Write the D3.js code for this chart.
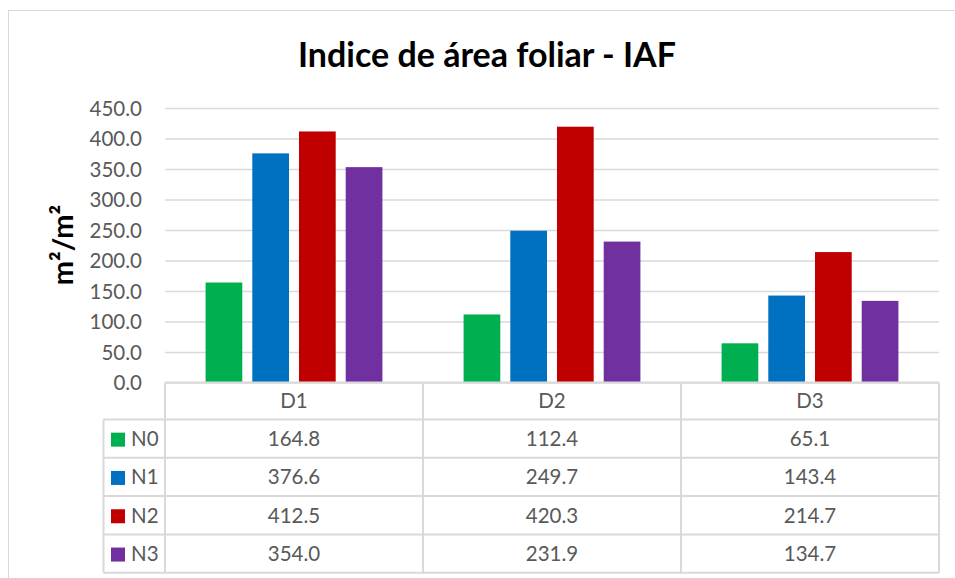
<!DOCTYPE html>
<html>
<head>
<meta charset="utf-8">
<script src="https://cdn.jsdelivr.net/npm/d3@7"></script>
<style>
  body { margin: 0; background: #fff; }
  svg { display: block; font-family: Lato, "Open Sans", sans-serif; }
</style>
</head>
<body>
<svg id="chart" width="955" height="578"></svg>
<script>
// chart data
const categories = ["D1", "D2", "D3"];
const seriesNames = ["N0", "N1", "N2", "N3"];
const seriesColors = ["#00B050", "#0070C0", "#C00000", "#7030A0"];
const n0 = [164.8, 112.4, 65.1];
const n1 = [376.6, 249.7, 143.4];
const n2 = [412.5, 420.3, 214.7];
const n3 = [354.0, 231.9, 134.7];
const yTicks = [0, 50, 100, 150, 200, 250, 300, 350, 400, 450];

const values = [n0, n1, n2, n3];

const svg = d3.select("#chart");

// outer chart border
svg.append("rect")
  .attr("x", 8.5).attr("y", 10.5)
  .attr("width", 960).attr("height", 600)
  .attr("fill", "none")
  .attr("stroke", "#d9d9d9");

// plot area
const plotLeft = 165, plotRight = 939, plotTop = 108.6, plotBottom = 383;

const x0 = d3.scaleBand().domain(categories).range([plotLeft, plotRight]);
const x1 = d3.scaleBand().domain(seriesNames)
  .range([0, x0.bandwidth()])
  .paddingInner(0.214)
  .paddingOuter(0.869);
const y = d3.scaleLinear().domain([0, 450]).range([plotBottom, plotTop]);

// gridlines
svg.append("g")
  .selectAll("line")
  .data(yTicks)
  .join("line")
  .attr("x1", plotLeft).attr("x2", plotRight)
  .attr("y1", (d) => y(d)).attr("y2", (d) => y(d))
  .attr("stroke", "#d9d9d9")
  .attr("stroke-width", 1.5);

// y tick labels
svg.append("g")
  .selectAll("text")
  .data(yTicks)
  .join("text")
  .attr("x", 142)
  .attr("y", (d) => y(d))
  .attr("dy", "0.35em")
  .attr("text-anchor", "end")
  .attr("fill", "#595959")
  .style("font-size", "20.5px")
  .text((d) => d3.format(".1f")(d));

// bars
const groups = svg.append("g")
  .selectAll("g")
  .data(seriesNames)
  .join("g")
  .attr("fill", (d, i) => seriesColors[i]);

groups.selectAll("rect")
  .data((s, i) => categories.map((c, j) => ({ cat: c, s: s, v: values[i][j] })))
  .join("rect")
  .attr("x", (d) => x0(d.cat) + x1(d.s))
  .attr("y", (d) => y(d.v))
  .attr("width", x1.bandwidth())
  .attr("height", (d) => plotBottom - y(d.v));

// title
svg.append("text")
  .attr("x", 487)
  .attr("y", 67)
  .attr("text-anchor", "middle")
  .attr("fill", "#000")
  .style("font-size", "34px")
  .style("font-weight", "bold")
  .text("Indice de área foliar - IAF");

// y axis label
svg.append("text")
  .attr("transform", "translate(73,245) rotate(-90)")
  .attr("text-anchor", "middle")
  .attr("fill", "#000")
  .style("font-size", "29px")
  .style("font-weight", "bold")
  .text("m²/m²");

// data table
const tableTop = 382.5;
const headerH = 37;
const rowH = 38.3;
const legendLeft = 103.5;
const lineColor = "#d9d9d9";
const table = svg.append("g");
const tableBottom = tableTop + headerH + rowH * seriesNames.length;

// horizontal lines
table.append("line")
  .attr("x1", plotLeft).attr("x2", plotRight)
  .attr("y1", tableTop).attr("y2", tableTop)
  .attr("stroke", lineColor).attr("stroke-width", 2);
table.selectAll("line.row")
  .data(d3.range(seriesNames.length + 1))
  .join("line")
  .attr("class", "row")
  .attr("x1", legendLeft).attr("x2", plotRight)
  .attr("y1", (d) => tableTop + headerH + d * rowH)
  .attr("y2", (d) => tableTop + headerH + d * rowH)
  .attr("stroke", lineColor).attr("stroke-width", 2);

// vertical lines
table.selectAll("line.col")
  .data(categories.map((c) => x0(c)).concat([plotRight]))
  .join("line")
  .attr("class", "col")
  .attr("x1", (d) => d).attr("x2", (d) => d)
  .attr("y1", tableTop).attr("y2", tableBottom)
  .attr("stroke", lineColor).attr("stroke-width", 2);
table.append("line")
  .attr("x1", legendLeft).attr("x2", legendLeft)
  .attr("y1", tableTop + headerH).attr("y2", tableBottom)
  .attr("stroke", lineColor).attr("stroke-width", 2);

// header labels
table.selectAll("text.head")
  .data(categories)
  .join("text")
  .attr("class", "head")
  .attr("x", (d) => x0(d) + x0.bandwidth() / 2)
  .attr("y", tableTop + headerH / 2)
  .attr("dy", "0.36em")
  .attr("text-anchor", "middle")
  .attr("fill", "#595959")
  .style("font-size", "20.5px")
  .text((d) => d);

// rows
const rows = table.selectAll("g.r")
  .data(seriesNames)
  .join("g")
  .attr("class", "r")
  .attr("transform", (d, i) => `translate(0,${tableTop + headerH + i * rowH + rowH / 2})`);

rows.append("rect")
  .attr("x", 111).attr("y", -6)
  .attr("width", 14).attr("height", 14)
  .attr("fill", (d, i) => seriesColors[i]);

rows.append("text")
  .attr("x", 131)
  .attr("dy", "0.36em")
  .attr("fill", "#595959")
  .style("font-size", "20.5px")
  .text((d) => d);

rows.selectAll("text.v")
  .data((s, i) => categories.map((c, j) => ({ cat: c, v: values[i][j] })))
  .join("text")
  .attr("class", "v")
  .attr("x", (d) => x0(d.cat) + x0.bandwidth() / 2)
  .attr("dy", "0.36em")
  .attr("text-anchor", "middle")
  .attr("fill", "#595959")
  .style("font-size", "20.5px")
  .text((d) => d3.format(".1f")(d.v));
</script>
</body>
</html>
